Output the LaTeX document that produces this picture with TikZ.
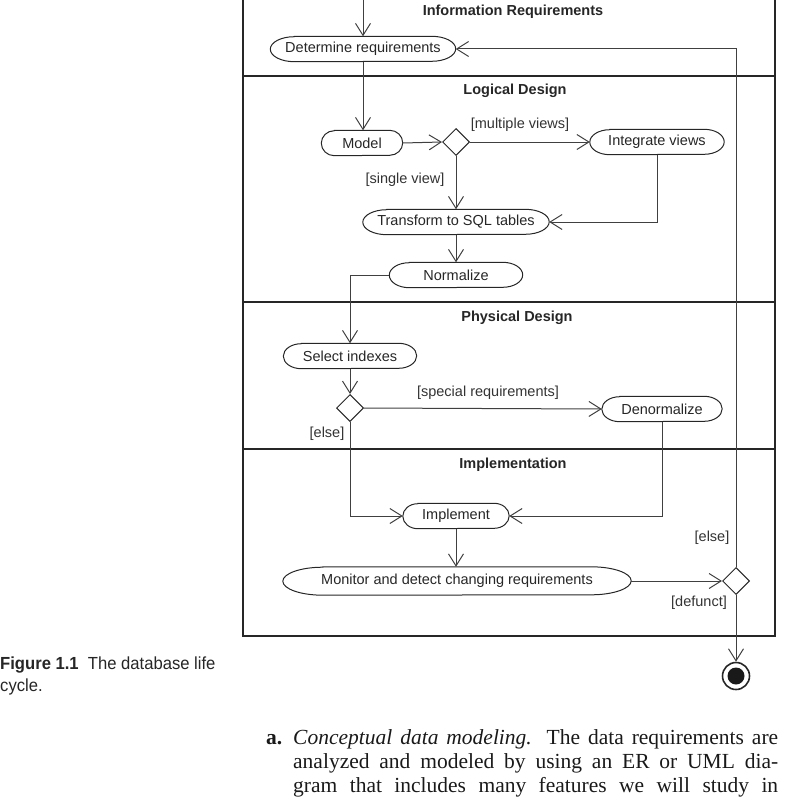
\documentclass[tikz,border=0pt]{standalone}
\usepackage{fontspec}
\setmainfont{Liberation Serif}
\setsansfont{Liberation Sans}
\newfontfamily\capfont[FakeStretch=0.95]{Liberation Sans}
\usetikzlibrary{arrows.meta,shapes.geometric}
\newcommand\pillpath[3]{\draw[line width=1pt, black!85] ([xshift=#2]#1.north west) -- ([xshift=-#2]#1.north east) arc[start angle=90,end angle=-90,x radius=#2,y radius=#3] -- ([xshift=#2]#1.south west) arc[start angle=270,end angle=90,x radius=#2,y radius=#3] -- cycle;}
\begin{document}
\begin{tikzpicture}[x=1pt,y=-1pt,
  act/.style={rectangle, minimum height=25pt, inner sep=0pt, font=\sffamily\fontsize{14.5}{15}\selectfont, text=black!85},
  dec/.style={draw=black!85, diamond, minimum width=27pt, minimum height=27pt, inner sep=0pt, line width=1pt},
  flow/.style={draw=black!75, line width=1pt, -{Straight Barb[length=12pt,width=15pt]}},
  lane/.style={line width=1.8pt, black!85},
  title/.style={font=\sffamily\bfseries\fontsize{14.5}{15}\selectfont, text=black!85},
  guard/.style={font=\sffamily\fontsize{14.5}{15}\selectfont, inner sep=0pt, text=black!80},
  body/.style={font=\fontsize{21.5}{22}\selectfont, inner sep=0pt, anchor=base west, text=black!90}
]
\useasboundingbox (0,0) rectangle (800,800);
% swimlanes
\draw[lane] (243,0) -- (243,636) -- (775,636) -- (775,0);
\draw[lane] (243,76) -- (775,76);
\draw[lane] (243,302) -- (775,302);
\draw[lane] (243,449) -- (775,449);
\node[title] (t1) at (513,12) {Information Requirements};
\node[title] (t2) at (515,91) {Logical Design};
\node[title] (t3) at (517,318) {Physical Design};
\node[title] (t4) at (513,465) {Implementation};
% nodes
\coordinate (start) at (363,0);
\node[act, minimum width=185pt] (det) at (363,49) {Determine requirements};
\node[act, minimum width=81pt] (model) at (362,143) {Model};
\node[dec] (d1) at (456,142) {};
\node[act, minimum width=134pt] (integ) at (657,142) {Integrate views};
\node[act, minimum width=186pt] (trans) at (456,222) {Transform to SQL tables};
\node[act, minimum width=133pt] (norm) at (456,275) {Normalize};
\node[act, minimum width=133pt] (sel) at (350,356) {Select indexes};
\node[dec] (d2) at (350,408) {};
\node[act, minimum width=120pt] (denorm) at (662,409) {Denormalize};
\node[act, minimum width=106pt] (impl) at (456,516) {Implement};
\node[act, minimum width=348pt, minimum height=28pt] (mon) at (457,581) {Monitor and detect changing requirements};
\node[dec] (d3) at (736,581) {};
\node[draw=black!85, circle, minimum size=27pt, line width=1.6pt, inner sep=0pt] (fin) at (736,676) {};
\node[circle, fill=black!90, minimum size=17pt, inner sep=0pt] (finin) at (fin.center) {};
% outlines of activities
\pillpath{det}{24pt}{12.5pt}
\pillpath{model}{13pt}{12.5pt}
\pillpath{integ}{20pt}{12.5pt}
\pillpath{trans}{24pt}{12.5pt}
\pillpath{norm}{20pt}{12.5pt}
\pillpath{sel}{18pt}{12.5pt}
\pillpath{denorm}{18pt}{12.5pt}
\pillpath{impl}{15pt}{12.5pt}
\pillpath{mon}{40pt}{14pt}
% guards
\node[guard] (g1) at (520,125) {[multiple views]};
\node[guard] (g2) at (405,180) {[single view]};
\node[guard] (g3) at (488,393) {[special requirements]};
\node[guard] (g4) at (327,434) {[else]};
\node[guard] (g5) at (712,538) {[else]};
\node[guard] (g6) at (699,603) {[defunct]};
% flows
\draw[flow] (start) -- (det.north);
\draw[flow] (det.south) -- (det.south |- model.north);
\draw[flow] (model.east) -- (d1.west);
\draw[flow] (d1.east) -- (integ.west);
\draw[flow] (d1.south) -- (trans.north);
\draw[flow] (integ.south) |- (trans.east);
\draw[flow] (trans.south) -- (norm.north);
\draw[flow] (norm.west) -| (sel.north);
\draw[flow] (sel.south) -- (d2.north);
\draw[flow] (d2.east) -- (denorm.west);
\draw[flow] (d2.south) |- (impl.west);
\draw[flow] (denorm.south) |- (impl.east);
\draw[flow] (impl.south) -- (impl.south |- mon.north);
\draw[flow] (mon.east) -- (d3.west);
\draw[flow] (d3.north) |- (det.east);
\draw[flow] (d3.south) -- (fin.north);
% caption
\node[anchor=base west, inner sep=0pt, font=\capfont\fontsize{17.5}{18}\selectfont, text=black!85] (cap1) at (0,669) {\textbf{Figure 1.1}\ \ The database life};
\node[anchor=base west, inner sep=0pt, font=\capfont\fontsize{17.5}{18}\selectfont, text=black!85] (cap2) at (0,691) {cycle.};
% body text
\node[body] (ba) at (266,744.5) {\textbf{a.}};
\node[body] (b1) at (293,744.5) {\makebox[485pt][s]{\textit{Conceptual data modeling.} The data requirements are}};
\node[body] (b2) at (293,768.5) {\makebox[485pt][s]{analyzed and modeled by using an ER or UML dia-}};
\node[body] (b3) at (293,792.5) {\makebox[485pt][s]{gram that includes many features we will study in}};
\end{tikzpicture}
\end{document}
